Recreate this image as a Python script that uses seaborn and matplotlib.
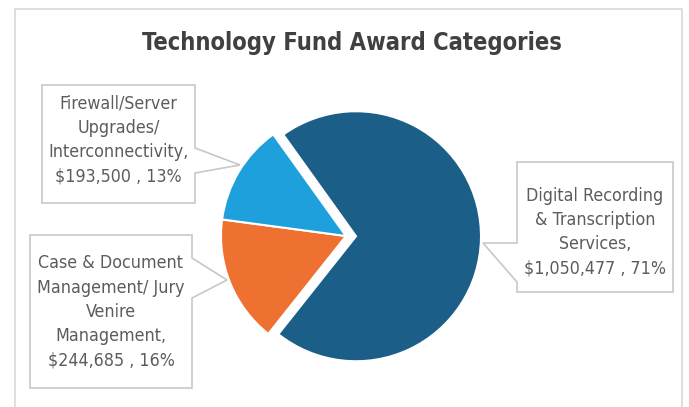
import matplotlib
matplotlib.use("Agg")
import matplotlib.pyplot as plt
from matplotlib.patches import Polygon, Rectangle
import seaborn as sns

# data
categories = ["Digital Recording\n& Transcription\nServices,",
              "Case & Document\nManagement/ Jury\nVenire\nManagement,",
              "Firewall/Server\nUpgrades/\nInterconnectivity,"]
amounts = [1050477, 244685, 193500]
percents = [71, 16, 13]
colors = ["#1b5e88", "#ef7131", "#1ea0dd"]

sns.set_theme(style="white")
plt.rcParams['font.family'] = ['Liberation Sans Narrow', 'DejaVu Sans']

W, H = 689, 407
fig = plt.figure(figsize=(W / 100, H / 100), dpi=100)
ax = fig.add_axes([0, 0, 1, 1])

def P(x, y):
    # pixel coords (y from top) -> data coords
    return (x, H - y)

# outer frame of the chart
ax.add_patch(Rectangle(P(15, 412), 667, 403, fill=False, edgecolor="#d9d9d9", lw=1.2))

# explode is in data units here (radius is 125)
ax.pie(amounts, colors=colors, startangle=125.6, counterclock=False,
       explode=[10, 0, 0], center=P(346, 236), radius=125, frame=True,
       wedgeprops=dict(edgecolor="white", linewidth=1.5))

ax.set_xlim(0, W)
ax.set_ylim(0, H)
ax.axis("off")

ax.text(*P(352, 43), "Technology Fund Award Categories", ha="center", va="center",
        fontsize=17, fontweight="bold", color="#404040", fontstretch="condensed")

# callout boxes: rect (left, top, right, bottom), pointer base y's, tip, side, text y
boxes = [
    ((517, 162, 673, 292), (243, 282), (483, 243), "left", 232),
    ((30, 235, 192, 388), (258, 298), (227, 280), "right", 312),
    ((42, 85, 195, 203), (148, 173), (240, 165), "right", 140),
]

for (rect, (y1, y2), tip, side, ty), name, amt, pct in zip(boxes, categories, amounts, percents):
    l, t, r, b = rect
    if side == "right":
        pts = [(l, t), (r, t), (r, y1), tip, (r, y2), (r, b), (l, b)]
    else:
        pts = [(l, t), (r, t), (r, b), (l, b), (l, y2), tip, (l, y1)]
    ax.add_patch(Polygon([P(*p) for p in pts], closed=True, facecolor="white",
                         edgecolor="#c8c8c8", lw=1.2, zorder=3))
    label = f"{name}\n${amt:,} , {pct}%"
    ax.text(*P((l + r) / 2, ty), label, ha="center", va="center",
            fontsize=12.8, color="#5c5c5c", linespacing=1.45, zorder=4,
            fontstretch="condensed")

fig.savefig("out.png", dpi=100)
